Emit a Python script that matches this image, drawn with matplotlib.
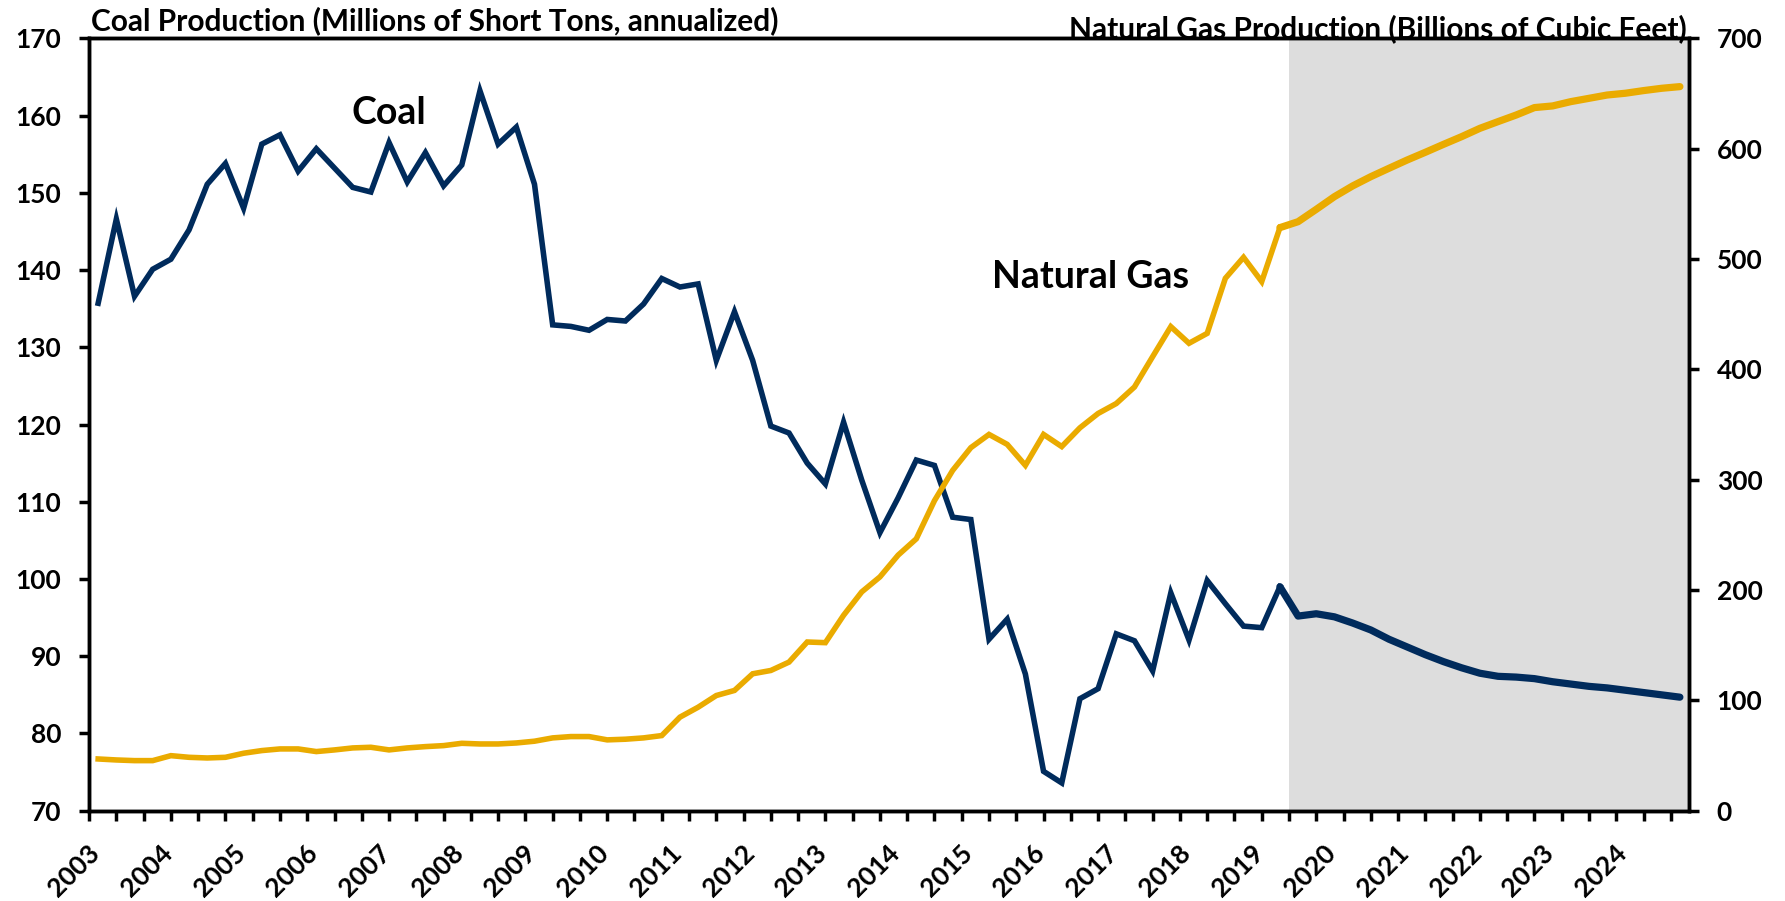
import matplotlib
matplotlib.use("Agg")
import matplotlib.pyplot as plt
import matplotlib.transforms as mtransforms
import numpy as np

plt.rcParams['font.family'] = ['Lato', 'DejaVu Sans']
plt.rcParams['font.weight'] = 'bold'

# quarterly data, 2003Q1 - 2024Q4 (forecast from 2019Q3)
years = list(range(2003, 2025))
coal = [135.7, 146.6, 136.6, 140.1, 141.4, 145.2, 151.1, 153.8, 148.0, 156.3,
        157.5, 152.8, 155.7, 153.2, 150.7, 150.1, 156.5, 151.4, 155.2, 150.9,
        153.6, 163.2, 156.3, 158.5, 151.1, 132.9, 132.7, 132.2, 133.6, 133.4,
        135.6, 138.9, 137.8, 138.2, 128.3, 134.6, 128.3, 119.8, 118.9, 115.0,
        112.3, 120.3, 112.8, 106.0, 110.5, 115.4, 114.7, 108.0, 107.7, 92.2,
        94.8, 87.7, 75.1, 73.6, 84.5, 85.8, 92.9, 92.0, 88.1, 98.2,
        92.1, 99.8, 96.8, 93.9, 93.7, 99.0, 95.2, 95.5, 95.1, 94.3,
        93.4, 92.2, 91.2, 90.2, 89.3, 88.5, 87.8, 87.4, 87.3, 87.1,
        86.7, 86.4, 86.1, 85.9, 85.6, 85.3, 85.0, 84.7]
gas = [46.9, 46.0, 45.4, 45.4, 49.9, 48.4, 47.8, 48.4, 52.1, 54.5,
       56.0, 56.0, 53.6, 55.1, 56.9, 57.5, 55.1, 56.9, 58.1, 59.0,
       61.1, 60.5, 60.5, 61.4, 63.0, 66.0, 67.2, 67.2, 64.2, 64.8,
       66.0, 68.1, 84.8, 93.8, 104.4, 109.0, 124.1, 127.1, 134.7, 152.9,
       152.3, 177.1, 198.3, 211.9, 231.6, 246.4, 281.0, 308.4, 329.0, 341.0,
       332.0, 313.0, 341.0, 330.0, 347.0, 360.0, 369.0, 384.0, 411.5, 438.7,
       423.6, 432.6, 482.5, 501.5, 479.5, 528.4, 533.8, 545.0, 556.5, 566.2,
       574.6, 582.2, 589.7, 596.7, 603.9, 610.9, 618.4, 624.5, 630.5, 637.2,
       638.7, 642.6, 645.6, 648.6, 650.2, 652.6, 654.7, 656.2]
forecast_start = 66  # first forecast quarter (2019Q3)

navy = '#002B5C'
gold = '#EAAB00'

x = np.arange(len(coal))
hist = x <= forecast_start - 1
fcst = x >= forecast_start - 1

fig = plt.figure(figsize=(17.85, 9.01), dpi=100)
ax = fig.add_axes([0.0499, 0.1002, 0.8963, 0.8573])
ax2 = ax.twinx()

ax.axvspan(forecast_start - 0.5, len(coal) - 0.5, color='#DDDDDD', lw=0, zorder=0)

ax.plot(x[hist], np.array(coal)[hist], color=navy, lw=4.0, solid_joinstyle='miter', zorder=3)
ax.plot(x[fcst], np.array(coal)[fcst], color=navy, lw=5.2, solid_capstyle='round', zorder=3)
ax2.plot(x[hist], np.array(gas)[hist], color=gold, lw=4.0, solid_joinstyle='miter', zorder=3)
ax2.plot(x[fcst], np.array(gas)[fcst], color=gold, lw=5.2, solid_capstyle='round', zorder=3)

ax.set_xlim(-0.5, len(coal) - 0.5)
ax.set_ylim(70, 170)
ax2.set_ylim(0, 700)
ax.set_yticks(np.arange(70, 171, 10))
ax2.set_yticks(np.arange(0, 701, 100))

# tick marks every 1.5 quarters; year labels (rotated) on the first quarter of each year
ax.set_xticks(np.arange(-0.5, len(coal), 1.5))
ax.set_xticklabels([])
ax.tick_params(axis='x', direction='out', length=7, width=2.5)
ax.tick_params(axis='y', direction='out', length=7, width=2.5, labelsize=19, pad=13)
ax2.tick_params(axis='y', direction='out', length=7, width=2.5, labelsize=19, pad=13)

label_trans = mtransforms.offset_copy(ax.get_xaxis_transform(), fig=fig, x=6, y=-30, units='dots')
for i, yr in enumerate(years):
    ax.text(4 * i, 0, str(yr), transform=label_trans, rotation=45,
            ha='right', va='top', fontsize=19, clip_on=False)

for a in (ax, ax2):
    for s in a.spines.values():
        s.set_linewidth(2.5)
        s.set_color('black')

ax.text(16.0, 160.3, 'Coal', fontsize=27, ha='center', va='center', color='black')
ax.text(54.6, 139.1, 'Natural Gas', fontsize=27, ha='center', va='center', color='black')

fig.text(0.051, 0.966, 'Coal Production (Millions of Short Tons, annualized)',
         fontsize=21.5, ha='left', va='baseline')
fig.text(0.945, 0.958, 'Natural Gas Production (Billions of Cubic Feet)',
         fontsize=21.5, ha='right', va='baseline')

fig.savefig('out.png', dpi=100)
